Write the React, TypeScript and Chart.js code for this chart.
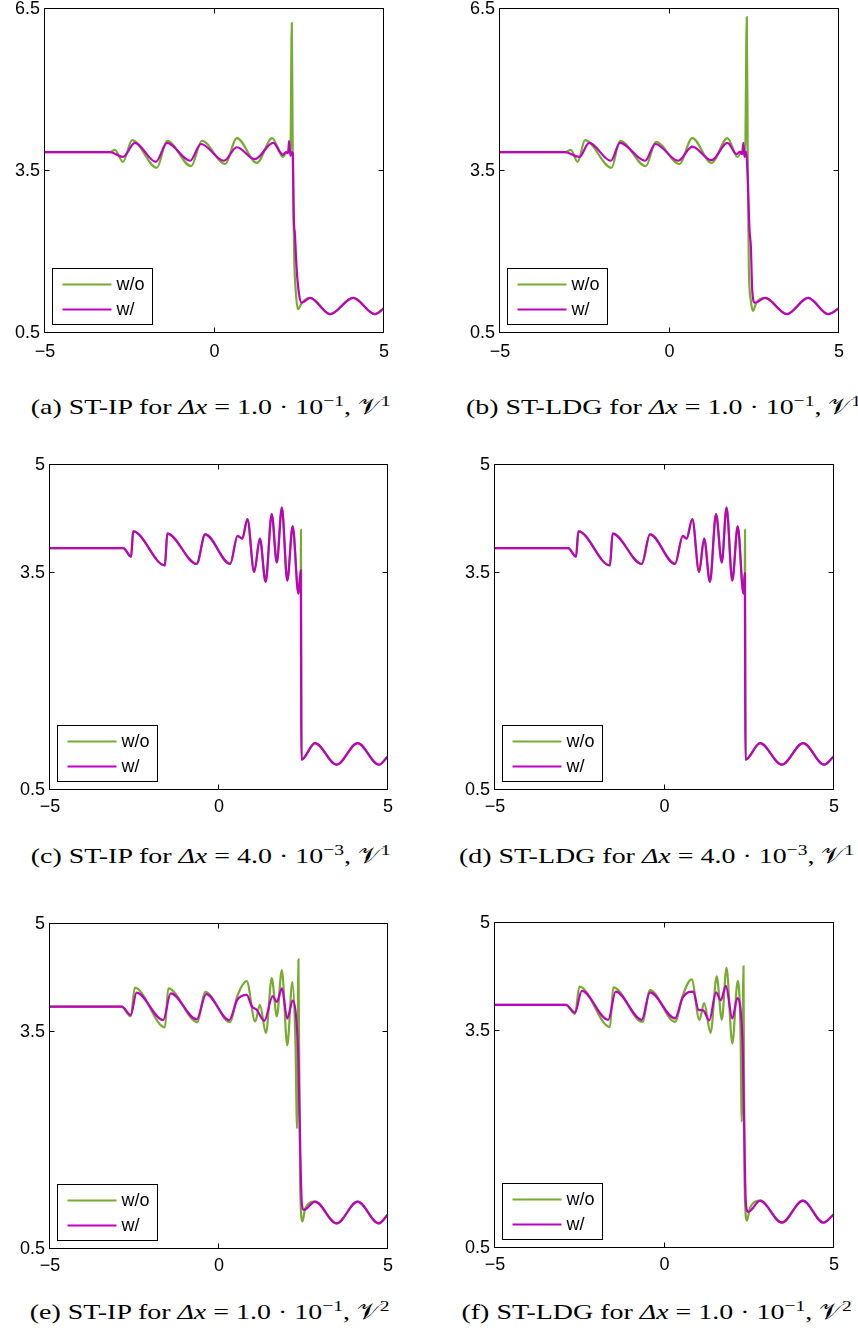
import React, { useEffect, useRef } from 'react';
import { Chart, registerables } from 'chart.js';

Chart.register(...registerables);

const GREEN = '#77AC30';
const MAGENTA = '#BF00BF';

const xTickValues = [-5, 0, 5];
const yTicksRow1 = [0.5, 3.5, 6.5];
const yTicksRow23 = [0.5, 3.5, 5];
const seriesLabels = ['w/o', 'w/'];

// ---- (a) ST-IP, dx = 1.0e-1, V1 ----
const aGreenX = [-5, -3.08, -2.94, -2.7, -2.43, -1.7, -1.4, -0.69, -0.37, 0.31, 0.66, 1.25, 1.7, 2.02, 2.14, 2.24, 2.28, 2.31, 2.35, 2.4, 2.46, 2.58, 2.82, 3.41, 4.09, 4.73, 5];
const aGreenY = [3.85, 3.85, 3.89, 3.67, 4.07, 3.56, 4.06, 3.59, 4.06, 3.63, 4.11, 3.65, 4.11, 3.76, 3.85, 3.88, 6.24, 3.6, 1.9, 1.25, 0.94, 1.06, 1.15, 0.85, 1.15, 0.85, 0.96];
const aMagX = [-5, -3.08, -2.7, -2.35, -1.73, -1.4, -0.72, -0.4, 0.28, 0.66, 1.19, 1.73, 2.02, 2.11, 2.17, 2.2, 2.24, 2.27, 2.31, 2.34, 2.37, 2.42, 2.49, 2.57, 2.82, 3.41, 4.09, 4.73, 5];
const aMagY = [3.85, 3.85, 3.76, 4.02, 3.67, 4.02, 3.69, 4.0, 3.69, 3.94, 3.72, 4.02, 3.8, 3.85, 3.83, 4.06, 3.78, 3.85, 3.83, 2.6, 2.35, 1.72, 1.24, 1.06, 1.15, 0.85, 1.15, 0.85, 0.96];

// ---- (b) ST-LDG, dx = 1.0e-1, V1 ----
const bGreenX = [-5, -3.08, -2.91, -2.71, -2.49, -1.71, -1.46, -0.7, -0.4, 0.29, 0.67, 1.24, 1.71, 2.01, 2.13, 2.23, 2.28, 2.31, 2.34, 2.4, 2.46, 2.57, 2.82, 3.46, 4.09, 4.68, 5];
const bGreenY = [3.85, 3.85, 3.89, 3.67, 4.07, 3.56, 4.06, 3.59, 4.04, 3.63, 4.11, 3.65, 4.11, 3.76, 3.85, 3.82, 6.35, 3.5, 1.72, 1.1, 0.91, 1.07, 1.15, 0.85, 1.15, 0.85, 0.96];
const bMagX = [-5, -3.08, -2.66, -2.37, -1.73, -1.46, -0.72, -0.42, 0.26, 0.67, 1.24, 1.71, 1.98, 2.08, 2.14, 2.18, 2.21, 2.26, 2.3, 2.36, 2.4, 2.44, 2.52, 2.82, 3.46, 4.09, 4.68, 5];
const bMagY = [3.85, 3.85, 3.76, 4.02, 3.69, 4.02, 3.69, 4.0, 3.69, 3.95, 3.7, 4.02, 3.81, 3.86, 3.81, 4.02, 3.76, 3.86, 3.49, 2.41, 2.1, 1.3, 1.06, 1.15, 0.85, 1.15, 0.85, 0.96];

// ---- (c) ST-IP, dx = 4.0e-3, V1 ----
const cGreenX = [-5, -2.83, -2.6, -2.54, -1.6, -1.53, -0.66, -0.41, 0.33, 0.55, 0.69, 0.84, 1.04, 1.21, 1.38, 1.56, 1.71, 1.86, 2.02, 2.18, 2.35, 2.4, 2.42, 2.425, 2.435, 2.44, 2.84, 3.48, 4.1, 4.73, 5];
const cGreenY = [3.85, 3.85, 3.73, 4.08, 3.61, 4.05, 3.63, 4.04, 3.63, 4.02, 3.98, 4.25, 3.52, 3.98, 3.38, 4.32, 3.65, 4.41, 3.4, 4.15, 3.22, 3.45, 3.54, 4.1, 2.0, 0.92, 1.15, 0.85, 1.15, 0.85, 0.97];
const cMagX = [-5, -2.83, -2.6, -2.54, -1.6, -1.53, -0.66, -0.41, 0.33, 0.55, 0.69, 0.84, 1.04, 1.21, 1.38, 1.56, 1.71, 1.86, 2.02, 2.18, 2.35, 2.4, 2.42, 2.43, 2.44, 2.84, 3.48, 4.1, 4.73, 5];
const cMagY = [3.85, 3.85, 3.73, 4.08, 3.61, 4.05, 3.63, 4.04, 3.63, 4.02, 3.98, 4.25, 3.52, 3.98, 3.38, 4.32, 3.65, 4.41, 3.4, 4.15, 3.22, 3.45, 3.54, 2.0, 0.92, 1.15, 0.85, 1.15, 0.85, 0.97];

// ---- (d) ST-LDG, dx = 4.0e-3, V1 ----
const dGreenX = [-5, -2.84, -2.61, -2.54, -1.61, -1.53, -0.67, -0.43, 0.31, 0.54, 0.65, 0.82, 1.02, 1.17, 1.34, 1.52, 1.69, 1.83, 2.0, 2.16, 2.33, 2.355, 2.37, 2.375, 2.385, 2.39, 2.82, 3.46, 4.09, 4.71, 5];
const dGreenY = [3.85, 3.85, 3.73, 4.08, 3.61, 4.05, 3.63, 4.04, 3.63, 4.02, 3.98, 4.25, 3.52, 3.98, 3.38, 4.32, 3.65, 4.41, 3.4, 4.15, 3.22, 3.42, 3.5, 4.1, 2.0, 0.92, 1.15, 0.85, 1.15, 0.85, 0.97];
const dMagX = [-5, -2.84, -2.61, -2.54, -1.61, -1.53, -0.67, -0.43, 0.31, 0.54, 0.65, 0.82, 1.02, 1.17, 1.34, 1.52, 1.69, 1.83, 2.0, 2.16, 2.33, 2.355, 2.37, 2.38, 2.39, 2.82, 3.46, 4.09, 4.71, 5];
const dMagY = [3.85, 3.85, 3.73, 4.08, 3.61, 4.05, 3.63, 4.04, 3.63, 4.02, 3.98, 4.25, 3.52, 3.98, 3.38, 4.32, 3.65, 4.41, 3.4, 4.15, 3.22, 3.42, 3.5, 2.0, 0.92, 1.15, 0.85, 1.15, 0.85, 0.97];

// ---- (e) ST-IP, dx = 1.0e-1, V2 ----
const eGreenX = [-5, -2.88, -2.61, -2.49, -1.6, -1.5, -0.64, -0.41, 0.33, 0.54, 0.82, 1.07, 1.21, 1.39, 1.56, 1.71, 1.86, 2.02, 2.17, 2.26, 2.31, 2.35, 2.4, 2.47, 2.55, 2.84, 3.48, 4.1, 4.73, 5];
const eGreenY = [3.855, 3.855, 3.72, 4.12, 3.57, 4.11, 3.64, 4.06, 3.64, 4.0, 4.21, 3.65, 3.88, 3.49, 4.25, 3.72, 4.36, 3.32, 4.2, 3.4, 2.17, 4.51, 1.41, 0.88, 1.06, 1.155, 0.855, 1.155, 0.855, 0.98];
const eMagX = [-5, -2.88, -2.61, -2.44, -1.65, -1.43, -0.66, -0.38, 0.3, 0.54, 0.82, 0.97, 1.12, 1.34, 1.59, 1.71, 1.86, 2.02, 2.18, 2.28, 2.35, 2.4, 2.45, 2.51, 2.84, 3.48, 4.1, 4.73, 5];
const eMagY = [3.855, 3.855, 3.74, 4.05, 3.67, 4.04, 3.68, 4.03, 3.67, 3.95, 4.02, 3.86, 3.81, 3.66, 4.0, 3.92, 4.11, 3.69, 3.94, 3.72, 3.12, 1.96, 1.13, 1.04, 1.155, 0.855, 1.155, 0.855, 0.98];

// ---- (f) ST-LDG, dx = 1.0e-1, V2 ----
const fGreenX = [-5, -2.91, -2.64, -2.51, -1.61, -1.51, -0.65, -0.43, 0.31, 0.54, 0.8, 1.03, 1.17, 1.36, 1.54, 1.69, 1.83, 2.0, 2.16, 2.24, 2.28, 2.33, 2.36, 2.43, 2.52, 2.82, 3.46, 4.08, 4.69, 5];
const fGreenY = [3.865, 3.865, 3.74, 4.12, 3.56, 4.11, 3.63, 4.07, 3.63, 4.0, 4.22, 3.66, 3.89, 3.48, 4.26, 3.66, 4.38, 3.33, 4.2, 3.55, 2.25, 4.4, 1.49, 0.88, 1.05, 1.155, 0.85, 1.155, 0.85, 0.97];
const fMagX = [-5, -2.91, -2.64, -2.44, -1.66, -1.44, -0.67, -0.43, 0.31, 0.54, 0.85, 1.0, 1.14, 1.32, 1.52, 1.66, 1.81, 2.0, 2.15, 2.25, 2.31, 2.35, 2.4, 2.47, 2.82, 3.46, 4.08, 4.69, 5];
const fMagY = [3.865, 3.865, 3.76, 4.06, 3.66, 4.05, 3.66, 4.04, 3.68, 3.97, 4.05, 3.8, 3.79, 3.65, 4.04, 3.93, 4.13, 3.68, 3.96, 3.77, 3.24, 2.18, 1.12, 1.0, 1.155, 0.85, 1.155, 0.85, 0.97];

const pts = (xs: number[], ys: number[]) => xs.map((x, i) => ({ x, y: ys[i] }));

const TICK_FONT = { family: '"Liberation Sans", Arial, sans-serif', size: 18 };

const framePlugin = {
  id: 'matlabFrame',
  afterDatasetsDraw(chart: any) {
    const { ctx, chartArea: a, scales } = chart;
    const l = Math.round(a.left) - 0.5;
    const r = Math.round(a.right) - 0.5;
    const t = Math.round(a.top) - 0.5;
    const b = Math.round(a.bottom) - 0.5;
    ctx.save();
    ctx.strokeStyle = '#000';
    ctx.lineWidth = 1;
    ctx.strokeRect(l, t, r - l, b - t);
    const tl = 5;
    ctx.beginPath();
    scales.x.ticks.forEach((tk: any) => {
      const px = Math.round(scales.x.getPixelForValue(tk.value)) - 0.5;
      ctx.moveTo(px, b); ctx.lineTo(px, b - tl);
      ctx.moveTo(px, t); ctx.lineTo(px, t + tl);
    });
    scales.y.ticks.forEach((tk: any) => {
      const py = Math.round(scales.y.getPixelForValue(tk.value)) - 0.5;
      ctx.moveTo(l, py); ctx.lineTo(l + tl, py);
      ctx.moveTo(r, py); ctx.lineTo(r - tl, py);
    });
    ctx.stroke();
    ctx.restore();
  },
};

const legendPlugin = {
  id: 'boxLegend',
  afterDraw(chart: any) {
    const { ctx, chartArea: a } = chart;
    const w = 100, h = 56;
    const x = Math.round(a.left) + 8 - 0.5;
    const y = Math.round(a.bottom) - 8 - h - 0.5;
    ctx.save();
    ctx.fillStyle = '#fff';
    ctx.fillRect(x, y, w, h);
    ctx.strokeStyle = '#000';
    ctx.lineWidth = 1;
    ctx.strokeRect(x, y, w, h);
    chart.data.datasets.forEach((ds: any, i: number) => {
      const ly = y + 16 + i * 25;
      ctx.strokeStyle = ds.borderColor;
      ctx.lineWidth = 2.2;
      ctx.beginPath();
      ctx.moveTo(x + 10, ly);
      ctx.lineTo(x + 59, ly);
      ctx.stroke();
      ctx.fillStyle = '#000';
      ctx.font = '18px "Liberation Sans", Arial, sans-serif';
      ctx.textBaseline = 'middle';
      ctx.textAlign = 'left';
      ctx.fillText(ds.label, x + 64, ly + 1);
    });
    ctx.restore();
  },
};

const L = 44, T = 14, R = 16, B = 36;

interface PanelProps {
  left: number; top: number; w: number; h: number;
  yTicks: number[];
  gx: number[]; gy: number[]; mx: number[]; my: number[];
  xPad: number;
}

function Panel(p: PanelProps) {
  const ref = useRef<HTMLCanvasElement>(null);
  useEffect(() => {
    const yMin = p.yTicks[0];
    const yMax = p.yTicks[p.yTicks.length - 1];
    const chart = new Chart(ref.current as HTMLCanvasElement, {
      type: 'line',
      data: {
        datasets: [
          { label: seriesLabels[0], data: pts(p.gx, p.gy), borderColor: GREEN, backgroundColor: GREEN, borderWidth: 2.2, pointRadius: 0, cubicInterpolationMode: 'monotone', order: 2 },
          { label: seriesLabels[1], data: pts(p.mx, p.my), borderColor: MAGENTA, backgroundColor: MAGENTA, borderWidth: 2.2, pointRadius: 0, cubicInterpolationMode: 'monotone', order: 1 },
        ],
      } as any,
      options: {
        animation: false,
        responsive: false,
        maintainAspectRatio: false,
        events: [],
        layout: { padding: { left: 0, top: T, right: R, bottom: 0 } },
        plugins: { legend: { display: false }, tooltip: { enabled: false } },
        scales: {
          x: {
            type: 'linear', min: -5, max: 5,
            grid: { display: false, drawTicks: false },
            border: { display: false },
            afterBuildTicks: (s: any) => { s.ticks = xTickValues.map((v) => ({ value: v })); },
            afterFit: (s: any) => { s.height = B; s.paddingLeft = 0; s.paddingRight = 0; },
            ticks: {
              color: '#000', font: TICK_FONT, padding: p.xPad, maxRotation: 0, autoSkip: false,
              callback: (v: any) => (Number(v) < 0 ? '\u2212' + Math.abs(Number(v)) : String(v)),
            },
          },
          y: {
            type: 'linear', min: yMin, max: yMax,
            grid: { display: false, drawTicks: false },
            border: { display: false },
            afterBuildTicks: (s: any) => { s.ticks = p.yTicks.map((v) => ({ value: v })); },
            afterFit: (s: any) => { s.width = L; s.paddingTop = 0; s.paddingBottom = 0; },
            ticks: { color: '#000', font: TICK_FONT, padding: 5, autoSkip: false, callback: (v: any) => String(v) },
          },
        },
      } as any,
      plugins: [framePlugin, legendPlugin],
    });
    return () => chart.destroy();
  }, []);
  const cw = p.w + L + R;
  const ch = p.h + T + B;
  return (
    <canvas
      ref={ref}
      width={cw}
      height={ch}
      style={{ position: 'absolute', left: p.left - L, top: p.top - T, width: cw, height: ch }}
    />
  );
}

const sup = (s: string) => (
  <span style={{ fontSize: '0.7em', position: 'relative', top: '-0.55em' }}>{s}</span>
);

function Caption(props: { cx: number; top: number; tag: string; method: string; mant: string; exp: string; space: string }) {
  return (
    <div
      style={{
        position: 'absolute', left: props.cx - 300, width: 600, top: props.top - 5,
        textAlign: 'center', whiteSpace: 'nowrap',
        fontFamily: '"Liberation Serif", "DejaVu Serif", serif', fontSize: 22, lineHeight: '27px', color: '#000',
      }}
    >
      <span style={{ display: 'inline-block', transform: 'scaleX(1.27)', transformOrigin: '50% 50%' }}>
        ({props.tag}) {props.method} for <i>Δx</i> = {props.mant} · 10{sup(props.exp)}, 𝒱{sup(props.space)}
      </span>
    </div>
  );
}

export default function App() {
  return (
    <div style={{ position: 'absolute', left: 0, top: 0, width: 858, height: 1342, overflow: 'hidden', background: '#fff' }}>
      <Panel left={45} top={9} w={339} h={324} yTicks={yTicksRow1} gx={aGreenX} gy={aGreenY} mx={aMagX} my={aMagY} xPad={8} />
      <Panel left={500} top={9} w={339} h={324} yTicks={yTicksRow1} gx={bGreenX} gy={bGreenY} mx={bMagX} my={bMagY} xPad={8} />
      <Panel left={50} top={465} w={338} h={325} yTicks={yTicksRow23} gx={cGreenX} gy={cGreenY} mx={cMagX} my={cMagY} xPad={6} />
      <Panel left={495} top={465} w={339} h={325} yTicks={yTicksRow23} gx={dGreenX} gy={dGreenY} mx={dMagX} my={dMagY} xPad={6} />
      <Panel left={50} top={924} w={338} h={325} yTicks={yTicksRow23} gx={eGreenX} gy={eGreenY} mx={eMagX} my={eMagY} xPad={6} />
      <Panel left={495} top={923} w={339} h={325} yTicks={yTicksRow23} gx={fGreenX} gy={fGreenY} mx={fMagX} my={fMagY} xPad={6} />
      <Caption cx={211} top={398} tag="a" method="ST-IP" mant="1.0" exp="−1" space="1" />
      <Caption cx={664} top={398} tag="b" method="ST-LDG" mant="1.0" exp="−1" space="1" />
      <Caption cx={211} top={847} tag="c" method="ST-IP" mant="4.0" exp="−3" space="1" />
      <Caption cx={657} top={847} tag="d" method="ST-LDG" mant="4.0" exp="−3" space="1" />
      <Caption cx={210} top={1303} tag="e" method="ST-IP" mant="1.0" exp="−1" space="2" />
      <Caption cx={657} top={1303} tag="f" method="ST-LDG" mant="1.0" exp="−1" space="2" />
    </div>
  );
}
